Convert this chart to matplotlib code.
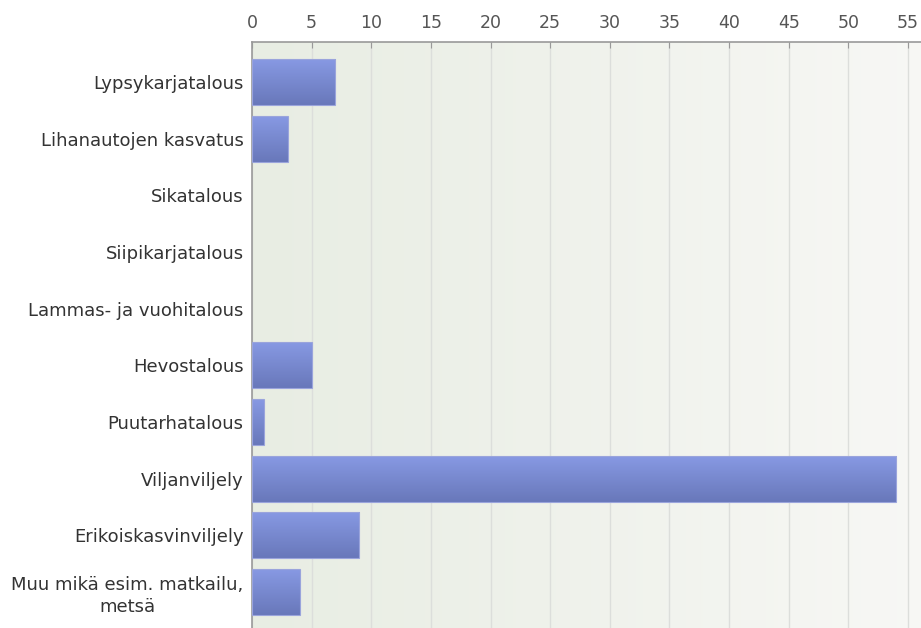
import numpy as np
from matplotlib import pyplot as plt
from matplotlib.patches import Rectangle

categories = ["Lypsykarjatalous", "Lihanautojen kasvatus", "Sikatalous",
              "Siipikarjatalous", "Lammas- ja vuohitalous", "Hevostalous",
              "Puutarhatalous", "Viljanviljely", "Erikoiskasvinviljely",
              "Muu mikä esim. matkailu,\nmetsä"]
counts = [7, 3, 0, 0, 0, 5, 1, 54, 9, 4]
xticks = list(range(0, 56, 5))

plt.rcParams['font.family'] = ['DejaVu Sans']

fig = plt.figure(figsize=(9.21, 6.28), dpi=100)
ax = fig.add_axes([252 / 921, 0.0, 1 - 252 / 921, 1 - 42 / 628])

xmax = 55 + 13 / 11.93
ymin, ymax = -0.706, 9.635
ax.set_xlim(0, xmax)
ax.set_ylim(ymax, ymin)

# background gradient, greenish on the left to near white on the right
bg = np.linspace(0, 1, 256).reshape(1, -1)
left = np.array([0.91, 0.93, 0.89])
right = np.array([0.97, 0.97, 0.96])
bgimg = left + (right - left) * bg[..., None]
ax.imshow(bgimg, extent=(0, xmax, ymax, ymin), aspect='auto', zorder=0)

for x in xticks:
    ax.axvline(x, color='#dcdedb', lw=1, zorder=1)

# bars with a vertical gradient
top = np.array([0.53, 0.60, 0.89])
bot = np.array([0.41, 0.47, 0.73])
g = np.linspace(0, 1, 64).reshape(-1, 1)
barimg = top + (bot - top) * g[..., None]
h = 0.81
for i, v in enumerate(counts):
    if v <= 0:
        continue
    rect = Rectangle((0, i - h / 2), v, h, facecolor='none',
                     edgecolor='#9aa4dc', lw=0.8, zorder=3)
    ax.add_patch(rect)
    im = ax.imshow(barimg, extent=(0, v, i + h / 2, i - h / 2),
                   aspect='auto', zorder=2)
    im.set_clip_path(rect)

ax.set_xlim(0, xmax)
ax.set_ylim(ymax, ymin)

ax.xaxis.tick_top()
ax.set_xticks(xticks)
ax.set_yticks(range(len(categories)))
ax.set_yticklabels(categories, ha='right', multialignment='center',
                   linespacing=1.3)
ax.tick_params(axis='x', direction='in', length=4, color='#999999',
               labelcolor='#555555', labelsize=12.5, pad=7.5)
ax.tick_params(axis='y', length=0, labelcolor='#333333', labelsize=13, pad=6)

for s in ['right', 'bottom']:
    ax.spines[s].set_visible(False)
ax.spines['top'].set_color('#999999')
ax.spines['left'].set_color('#999999')
ax.spines['top'].set_linewidth(1.2)
ax.spines['left'].set_linewidth(1.2)

fig.savefig('out.png', dpi=100)
